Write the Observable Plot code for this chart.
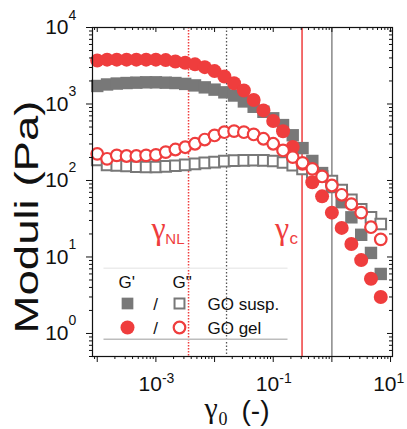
<!DOCTYPE html>
<html><head><meta charset="utf-8">
<script src="https://cdn.jsdelivr.net/npm/d3@7"></script>
<script src="https://cdn.jsdelivr.net/npm/@observablehq/plot@0.6"></script>
<style>html,body{margin:0;padding:0;background:#fff}</style>
</head><body><div id="chart"></div>
<script>
// strain amplitude grid (6 points per decade)
const strain = [1e-4, 1.47e-4, 2.15e-4, 3.16e-4, 4.64e-4, 6.81e-4,
  1e-3, 1.47e-3, 2.15e-3, 3.16e-3, 4.64e-3, 6.81e-3,
  0.01, 0.0147, 0.0215, 0.0316, 0.0464, 0.0681,
  0.1, 0.147, 0.215, 0.316, 0.464, 0.681,
  1, 1.47, 2.15, 3.16, 4.64, 6.81];
// GO gel
const gelStorage = [3700, 3800, 3800, 3800, 3800, 3800, 3800, 3750, 3600, 3460, 3300, 3030,
  2690, 2290, 1870, 1500, 1130, 825, 600, 440, 275, 165, 95, 62, 38, 24, 14.8, 9.1, 5.2, 3.0];
const gelLoss = [223, 192, 213, 209, 209, 213, 216, 235, 254, 272, 302, 343,
  388, 428, 442, 428, 400, 351, 302, 247, 202, 170, 142, 113, 86, 65, 49, 38, 24.5, 17];
// GO suspension
const suspStorage = [1720, 1800, 1850, 1880, 1900, 1920, 1920, 1900, 1880, 1830, 1750, 1650,
  1540, 1420, 1290, 1080, 920, 790, 650, 530, 390, 265, 180, 125, 82, 52, 33, 19.5, 11.3, 6.0];
const suspLoss = [185, 160, 157, 155, 151, 150, 150, 153, 156, 160, 165, 170,
  174, 179, 182, 183, 184, 183, 180, 172, 158, 142, 127, 113, 98, 75, 56, 42, 33, 27];
// characteristic strains
const gelNL = 0.0036, gelC = 0.31;
const suspNL = 0.016, suspC = 1.0;
// axes
const xMajor = [1e-4, 1e-3, 1e-2, 1e-1, 1, 10];
const xTickLabels = [1e-3, 1e-1, 1e1];
const yMajor = [1, 10, 100, 1000, 10000];
const yTickLabels = [1, 10, 100, 1000, 10000];
const xDomain = [8.3e-5, 10.8];
const yDomain = [0.5, 1e4];

const minors = (majors, lo, hi) => {
  const out = [];
  for (const d of [majors[0] / 10, ...majors]) for (let m = 2; m <= 9; m++) {
    const v = d * m; if (v >= lo && v <= hi) out.push(v);
  }
  return out;
};
const xMinor = minors(xMajor, xDomain[0], xDomain[1]);
const yMinor = minors(yMajor, yDomain[0], yDomain[1]);

const gel = strain.map((s, i) => ({strain: s, storage: gelStorage[i], loss: gelLoss[i]}));
const susp = strain.map((s, i) => ({strain: s, storage: suspStorage[i], loss: suspLoss[i]}));

const W = 407, H = 429, ML = 92, MR = 15, MT = 27, MB = 73;
const PW = W - ML - MR, PH = H - MT - MB;
const RED = "#ef3d3d", GRAY = "#787878";
const SANS = "Liberation Sans, Arial, sans-serif";
const SERIF = "Liberation Serif, Times New Roman, serif";
const exp = d => String(Math.round(Math.log10(d)));

const plot = Plot.plot({
  width: W, height: H,
  marginLeft: ML, marginRight: MR, marginTop: MT, marginBottom: MB,
  x: {type: "log", domain: xDomain, axis: null},
  y: {type: "log", domain: yDomain, axis: null},
  style: {fontFamily: SANS, background: "white", color: "#111"},
  marks: [
    // reference strains
    Plot.ruleX([gelNL], {stroke: RED, strokeWidth: 1.5, strokeDasharray: "1.5,1.5"}),
    Plot.ruleX([suspNL], {stroke: "#555", strokeWidth: 1.3, strokeDasharray: "1.5,2"}),
    Plot.ruleX([gelC], {stroke: RED, strokeWidth: 1.5}),
    Plot.ruleX([suspC], {stroke: "#888", strokeWidth: 1.5}),
    // legend separator lines
    Plot.frame({fill: "#ececec", stroke: "none", insetLeft: 11, insetRight: 105, insetTop: 240, insetBottom: PH - 241.5}),
    Plot.frame({fill: "#bdbdbd", stroke: "none", insetLeft: 11, insetRight: 105, insetTop: 311, insetBottom: PH - 312.5}),
    // data
    Plot.dot(susp, {x: "strain", y: "storage", symbol: "square", fill: GRAY, r: 7}),
    Plot.dot(susp, {x: "strain", y: "loss", symbol: "square", fill: "white", stroke: GRAY, strokeWidth: 2, r: 6}),
    Plot.dot(gel, {x: "strain", y: "storage", fill: RED, r: 7}),
    Plot.dot(gel, {x: "strain", y: "loss", fill: "white", stroke: RED, strokeWidth: 2.2, r: 5.8}),
    // frame & ticks
    Plot.frame({stroke: "#111", strokeWidth: 1.2}),
    Plot.ruleX(xMajor, {stroke: "#111", insetTop: PH, insetBottom: -6}),
    Plot.ruleX(xMinor, {stroke: "#111", insetTop: PH, insetBottom: -3}),
    Plot.ruleX(xMajor, {stroke: "#111", insetBottom: PH - 5}),
    Plot.ruleX(xMinor, {stroke: "#111", insetBottom: PH - 3}),
    Plot.ruleY(yMajor, {stroke: "#111", insetLeft: -6, insetRight: PW}),
    Plot.ruleY(yMinor, {stroke: "#111", insetLeft: -3, insetRight: PW}),
    Plot.ruleY(yMajor, {stroke: "#111", insetLeft: PW - 5}),
    Plot.ruleY(yMinor, {stroke: "#111", insetLeft: PW - 3}),
    // tick labels
    Plot.text(xTickLabels, {x: d => d, text: () => "10", frameAnchor: "bottom", textAnchor: "end", lineAnchor: "bottom", dx: 6, dy: 34, fontSize: 21}),
    Plot.text(xTickLabels, {x: d => d, text: exp, frameAnchor: "bottom", textAnchor: "start", lineAnchor: "bottom", dx: 6, dy: 26, fontSize: 14}),
    Plot.text(yTickLabels, {y: d => d, text: () => "10", frameAnchor: "left", textAnchor: "end", lineAnchor: "middle", dx: -24, fontSize: 21}),
    Plot.text(yTickLabels, {y: d => d, text: exp, frameAnchor: "left", textAnchor: "start", lineAnchor: "bottom", dx: -24, dy: -8, fontSize: 14}),
    // axis titles
    Plot.text(["Moduli (Pa)"], {frameAnchor: "left", rotate: -90, textAnchor: "middle", lineAnchor: "bottom", dx: -55, dy: 25, fontSize: 33, className: "ytitle"}),
    Plot.text(["γ"], {frameAnchor: "bottom", textAnchor: "start", lineAnchor: "bottom", dx: -38, dy: 61, fontSize: 30, fontFamily: SERIF}),
    Plot.text(["0"], {frameAnchor: "bottom", textAnchor: "start", lineAnchor: "bottom", dx: -24, dy: 68, fontSize: 18, fontFamily: SERIF}),
    Plot.text(["(-)"], {frameAnchor: "bottom", textAnchor: "start", lineAnchor: "bottom", dx: -1, dy: 63, fontSize: 28}),
    // annotations
    Plot.text([gelNL], {x: d => d, text: () => "γ", frameAnchor: "top", textAnchor: "end", lineAnchor: "bottom", dx: -23, dy: 211, fontSize: 32, fontFamily: SERIF, fill: RED}),
    Plot.text([gelNL], {x: d => d, text: () => "NL", frameAnchor: "top", textAnchor: "end", lineAnchor: "bottom", dx: -4, dy: 216, fontSize: 15, fill: RED}),
    Plot.text([gelC], {x: d => d, text: () => "γ", frameAnchor: "top", textAnchor: "end", lineAnchor: "bottom", dx: -13, dy: 211, fontSize: 32, fontFamily: SERIF, fill: RED}),
    Plot.text([gelC], {x: d => d, text: () => "c", frameAnchor: "top", textAnchor: "end", lineAnchor: "bottom", dx: -4, dy: 216, fontSize: 17, fill: RED}),
    // legend
    Plot.text(["G'"], {frameAnchor: "top-left", textAnchor: "start", lineAnchor: "bottom", dx: 26, dy: 260, fontSize: 17}),
    Plot.text(['G"'], {frameAnchor: "top-left", textAnchor: "start", lineAnchor: "bottom", dx: 80, dy: 260, fontSize: 17}),
    Plot.dot([0], {frameAnchor: "top-left", dx: 35, dy: 276, symbol: "square", fill: GRAY, r: 6.6}),
    Plot.text(["/"], {frameAnchor: "top-left", textAnchor: "middle", lineAnchor: "bottom", dx: 63, dy: 282, fontSize: 17}),
    Plot.dot([0], {frameAnchor: "top-left", dx: 87, dy: 276, symbol: "square", fill: "white", stroke: GRAY, strokeWidth: 2, r: 5.6}),
    Plot.text(["GO susp."], {frameAnchor: "top-left", textAnchor: "start", lineAnchor: "bottom", dx: 115, dy: 282, fontSize: 17}),
    Plot.dot([0], {frameAnchor: "top-left", dx: 35, dy: 300, fill: RED, r: 7}),
    Plot.text(["/"], {frameAnchor: "top-left", textAnchor: "middle", lineAnchor: "bottom", dx: 63, dy: 306, fontSize: 17}),
    Plot.dot([0], {frameAnchor: "top-left", dx: 87, dy: 300, fill: "white", stroke: RED, strokeWidth: 2.2, r: 5.8}),
    Plot.text(["GO gel"], {frameAnchor: "top-left", textAnchor: "start", lineAnchor: "bottom", dx: 115, dy: 306, fontSize: 17})
  ]
});
document.getElementById("chart").appendChild(plot);
const yt = plot.querySelector("g.ytitle text") || [...plot.querySelectorAll("text")].find(t => t.textContent === "Moduli (Pa)");
if (yt) { yt.setAttribute("textLength", 233); yt.setAttribute("lengthAdjust", "spacingAndGlyphs"); }
</script>
</body></html>
